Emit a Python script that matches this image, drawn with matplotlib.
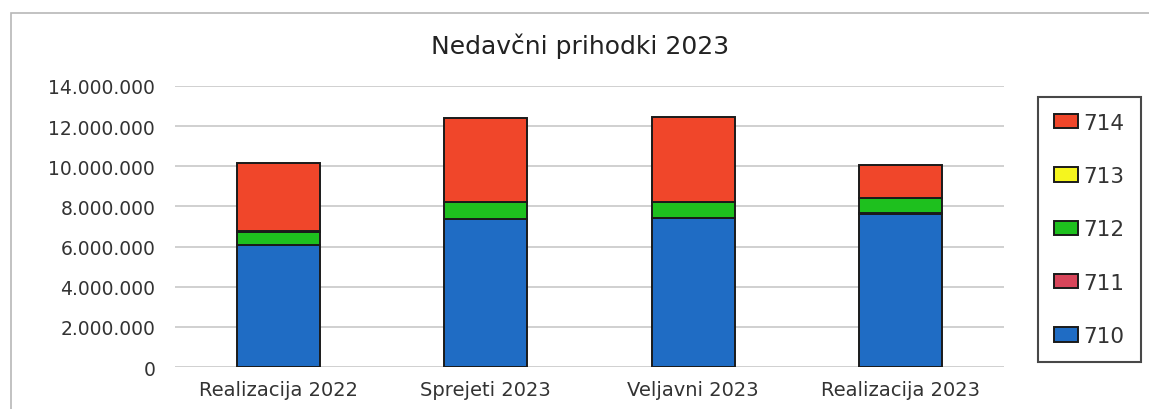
import numpy as np
import matplotlib
matplotlib.use("Agg")
from matplotlib import pyplot as plt
from matplotlib.patches import Rectangle
from matplotlib.ticker import FuncFormatter

# podatki (EUR)
kategorije = ["Realizacija 2022", "Sprejeti 2023", "Veljavni 2023", "Realizacija 2023"]
k710 = [6060000, 7390000, 7440000, 7640000]
k711 = [10000, 10000, 10000, 10000]
k712 = [640000, 820000, 780000, 770000]
k713 = [80000, 10000, 10000, 10000]
k714 = [3350000, 4180000, 4230000, 1630000]

serije = ["710", "711", "712", "713", "714"]
barve = ["#1f6cc4", "#d8455a", "#1ec01e", "#f5f51e", "#f0462a"]

fig = plt.figure(figsize=(11.49, 4.10), dpi=100)
ax = fig.add_axes([0.152, 0.102, 0.722, 0.686])

# okvir grafa
fig.patches.append(Rectangle((0.010, -0.05), 1.1, 1.016, transform=fig.transFigure,
                             fill=False, edgecolor="#b8b8b8", linewidth=1.2))

x = np.arange(len(kategorije))
spodaj = np.zeros(len(kategorije))
rocaji = []
for ime, vrednosti, barva in zip(serije, [k710, k711, k712, k713, k714], barve):
    b = ax.bar(x, vrednosti, 0.4, bottom=spodaj, color=barva, edgecolor="#1a1a1a",
               linewidth=1.4, label=ime, zorder=3)
    rocaji.append(b)
    spodaj += np.array(vrednosti)

ax.set_xlim(-0.5, 3.5)
ax.set_ylim(0, 14000000)
ax.set_yticks(np.arange(0, 14000001, 2000000))
ax.yaxis.set_major_formatter(FuncFormatter(lambda v, p: f"{int(v):,}".replace(",", ".")))
ax.set_xticks(x)
ax.set_xticklabels(kategorije)
ax.grid(axis="y", color="#c8c8c8", linewidth=1.2, zorder=0)
for s in ax.spines.values():
    s.set_visible(False)
ax.tick_params(length=0, colors="#333333")
ax.tick_params(axis="y", labelsize=13.5, pad=14)
ax.tick_params(axis="x", labelsize=14, pad=9)

fig.text(0.505, 0.888, "Nedavčni prihodki 2023", ha="center", va="center",
         fontsize=18, color="#222222")

leg = fig.legend(rocaji[::-1], serije[::-1], loc="upper left",
                 bbox_to_anchor=(0.9035, 0.762), fontsize=15.5, labelspacing=1.55,
                 handlelength=1.1, handleheight=0.65, handletextpad=0.25,
                 borderpad=0.75, fancybox=False, frameon=True, borderaxespad=0)
leg.get_frame().set_edgecolor("#1a1a1a")
leg.get_frame().set_linewidth(1.5)
for t in leg.get_texts():
    t.set_color("#333333")

fig.savefig("out.png", dpi=100)
